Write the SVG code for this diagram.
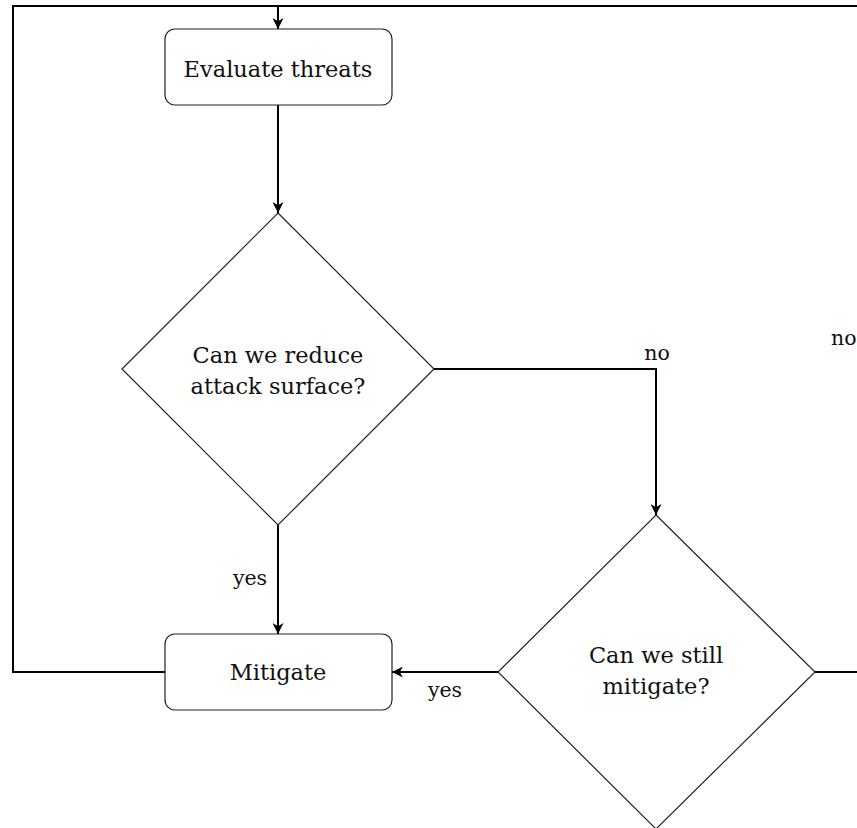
<svg xmlns="http://www.w3.org/2000/svg" width="857" height="828" viewBox="0 0 857 828">
  <style>
    text { font-family: "DejaVu Serif", "Liberation Serif", serif; font-size: 22.5px; fill: #111; }
    .lbl { font-size: 20.5px; }
    .c { text-anchor: middle; }
    .box { fill: #fff; stroke: #222; stroke-width: 1.2; }
    .dia { fill: #fff; stroke: #222; stroke-width: 1.2; }
    .edge { fill: none; stroke: #000; stroke-width: 2; }
  </style>
  <defs>
    <marker id="arr" viewBox="0 0 10 10" refX="10" refY="5" markerWidth="11" markerHeight="11" markerUnits="userSpaceOnUse" orient="auto">
      <path d="M0,0 L10,5 L0,10 L3,5 Z" fill="#000"/>
    </marker>
  </defs>
  <rect width="857" height="828" fill="#fff"/>

  <g id="connectors">
    <!-- loop back from Mitigate to the top -->
    <path class="edge" d="M165,672 H13 V6 H857"/>
    <path class="edge" d="M278,6 V29" marker-end="url(#arr)"/>
    <path class="edge" d="M278,105 V213" marker-end="url(#arr)"/>
    <path class="edge" d="M278,525 V634" marker-end="url(#arr)"/>
    <path class="edge" d="M434,369 H656 V515" marker-end="url(#arr)"/>
    <path class="edge" d="M498,672 H392" marker-end="url(#arr)"/>
    <path class="edge" d="M815,672 H857"/>
    <text x="250" y="585" class="c lbl">yes</text>
    <text x="657" y="360" class="c lbl">no</text>
    <text x="831" y="345" class="lbl">no</text>
    <text x="445" y="697" class="c lbl">yes</text>
  </g>

  <g id="evaluate">
    <rect class="box" x="165" y="29" width="227" height="76" rx="10"/>
    <text x="278" y="77" class="c">Evaluate threats</text>
  </g>

  <g id="reduce">
    <polygon class="dia" points="278,213 434,369 278,525 122,369"/>
    <text x="278" y="363" class="c">Can we reduce</text>
    <text x="278" y="394" class="c">attack surface?</text>
  </g>

  <g id="still">
    <polygon class="dia" points="656,515 815,672 656,829 498,672"/>
    <text x="656" y="663" class="c">Can we still</text>
    <text x="656" y="694" class="c">mitigate?</text>
  </g>

  <g id="mitigate">
    <rect class="box" x="165" y="634" width="227" height="76" rx="10"/>
    <text x="278" y="680" class="c">Mitigate</text>
  </g>
</svg>
